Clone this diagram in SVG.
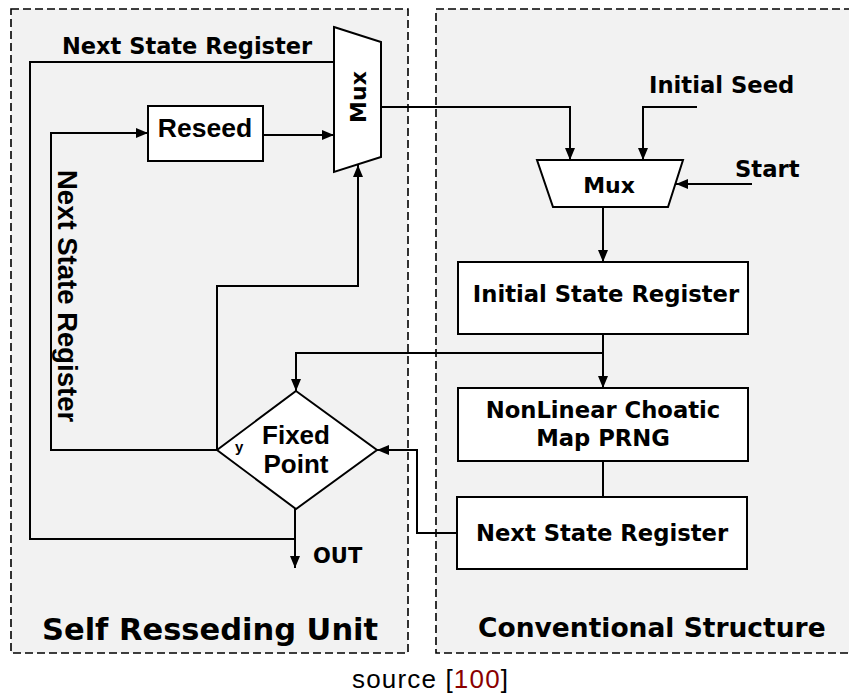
<svg xmlns="http://www.w3.org/2000/svg" width="849" height="699" viewBox="0 0 849 699">
<style>
.region{fill:#f2f2f2;stroke:#000;stroke-width:1.6;stroke-dasharray:8,4}
.node{fill:#fff;stroke:#000;stroke-width:2}
.wire{fill:none;stroke:#000;stroke-width:2}
.dv{font-family:"DejaVu Sans",sans-serif;font-weight:bold;font-size:22.7px;fill:#000}
.ls{font-family:"Liberation Sans",Arial,sans-serif;font-weight:bold;fill:#000}
.mid{text-anchor:middle}
</style>
<defs>
<marker id="ah" markerUnits="userSpaceOnUse" markerWidth="13" markerHeight="11" refX="12" refY="5" orient="auto">
<path d="M0,0 L12,5 L0,10 z" fill="#000"/>
</marker>
</defs>
<rect width="849" height="699" fill="#fff"/>
<g id="self-reseeding-unit">
<rect class="region" x="11" y="9" width="397" height="644"/>
<text class="dv" x="42" y="640" style="font-size:30.5px">Self Resseding Unit</text>
</g>
<g id="conventional-structure">
<rect class="region" x="436" y="9" width="430" height="644"/>
<text class="dv" x="478" y="637" style="font-size:26.5px">Conventional Structure</text>
</g>
<g id="connectors">
<path class="wire" d="M295,539 H30 V62 H335"/>
<path class="wire" d="M217,450 H51 V133 H148" marker-end="url(#ah)"/>
<path class="wire" d="M263,135 H334" marker-end="url(#ah)"/>
<path class="wire" d="M217,450 V286 H358 V165" marker-end="url(#ah)"/>
<path class="wire" d="M381,107 H570 V160" marker-end="url(#ah)"/>
<path class="wire" d="M697,107 H643 V160" marker-end="url(#ah)"/>
<path class="wire" d="M752,184 H676" marker-end="url(#ah)"/>
<path class="wire" d="M603,207 V262" marker-end="url(#ah)"/>
<path class="wire" d="M603,334 V388" marker-end="url(#ah)"/>
<path class="wire" d="M603,353 H296 V391" marker-end="url(#ah)"/>
<path class="wire" d="M603,461 V497"/>
<path class="wire" d="M457,533 H417 V450 H377" marker-end="url(#ah)"/>
<path class="wire" d="M295,509 V568" marker-end="url(#ah)"/>
</g>
<g id="labels">
<text class="dv" x="62" y="54" style="font-size:22.5px">Next State Register</text>
<text class="ls" transform="translate(58,170) rotate(90)" style="font-size:27.5px">Next State Register</text>
<text class="dv" x="649" y="93">Initial Seed</text>
<text class="dv" x="735" y="177">Start</text>
<text class="dv" x="313" y="563" style="font-size:21px">OUT</text>
</g>
<g id="mux-left">
<polygon class="node" points="334,27 381,42 381,157 334,172"/>
<text class="dv mid" transform="translate(366,97) rotate(-90)" style="font-size:22px">Mux</text>
</g>
<g id="reseed">
<rect class="node" x="148" y="106" width="115" height="55"/>
<text class="ls mid" x="205" y="137" style="font-size:26.5px">Reseed</text>
</g>
<g id="fixed-point">
<polygon class="node" points="296,391 377,450 296,509 217,450"/>
<text class="ls mid" x="296" y="444" style="font-size:26px">Fixed</text>
<text class="ls mid" x="296" y="473" style="font-size:26px">Point</text>
<text class="ls" x="235" y="452" style="font-size:15px">y</text>
</g>
<g id="mux-right">
<polygon class="node" points="537,160 683,160 668,207 553,207"/>
<text class="dv mid" x="609" y="193" style="font-size:22px">Mux</text>
</g>
<g id="initial-state-register">
<rect class="node" x="458" y="262" width="290" height="72"/>
<text class="dv mid" x="606" y="302">Initial State Register</text>
</g>
<g id="prng">
<rect class="node" x="458" y="388" width="290" height="73"/>
<text class="dv mid" x="603" y="418">NonLinear Choatic</text>
<text class="dv mid" x="603" y="446">Map PRNG</text>
</g>
<g id="next-state-register">
<rect class="node" x="457" y="497" width="290" height="72"/>
<text class="dv mid" x="602" y="541">Next State Register</text>
</g>
<g id="caption">
<text x="352" y="688" textLength="156" style="font-family:'Liberation Sans',Arial,sans-serif;font-size:26px;fill:#000">source [<tspan fill="#8b0000">100</tspan>]</text>
</g>
</svg>
